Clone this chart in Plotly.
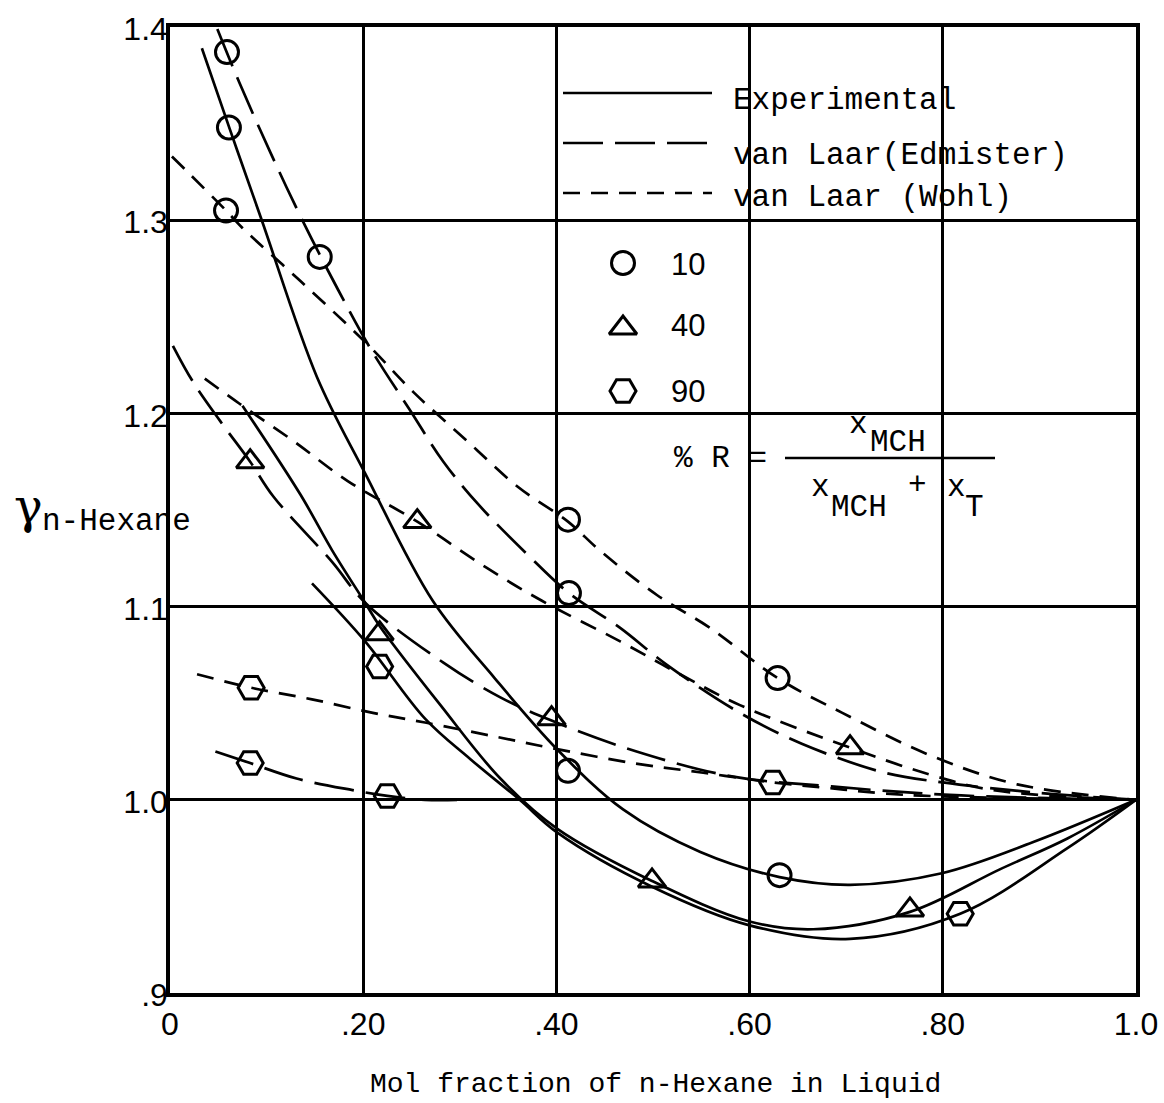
import plotly.graph_objects as go

# ---------------- data ----------------
x_tickvals = [0, 0.2, 0.4, 0.6, 0.8, 1.0]
x_ticktext = ["0", ".20", ".40", ".60", ".80", "1.0"]
y_tickvals = [0.9, 1.0, 1.1, 1.2, 1.3, 1.4]
y_ticktext = [".9", "1.0", "1.1", "1.2", "1.3", "1.4"]

# data points, % R = 10 (circles), 40 (triangles), 90 (hexagons)
r10_x = [0.059, 0.061, 0.058, 0.155, 0.412, 0.413, 0.629, 0.412, 0.631]
r10_y = [1.387, 1.348, 1.305, 1.281, 1.145, 1.107, 1.063, 1.015, 0.961]
r40_x = [0.083, 0.256, 0.217, 0.395, 0.704, 0.499, 0.766]
r40_y = [1.175, 1.144, 1.086, 1.042, 1.027, 0.958, 0.943]
r90_x = [0.084, 0.083, 0.217, 0.225, 0.624, 0.818]
r90_y = [1.058, 1.019, 1.069, 1.002, 1.009, 0.941]

# experimental curves (solid)
exp10_x = [0.033, 0.062, 0.095, 0.152, 0.202, 0.272, 0.336, 0.401, 0.469, 0.549, 0.631, 0.704, 0.799, 0.893, 1.0]
exp10_y = [1.389, 1.347, 1.300, 1.219, 1.169, 1.103, 1.063, 1.026, 0.995, 0.973, 0.960, 0.956, 0.962, 0.978, 1.0]
exp40_x = [0.075, 0.135, 0.168, 0.202, 0.217, 0.280, 0.342, 0.401, 0.499, 0.600, 0.666, 0.766, 0.859, 0.929, 1.0]
exp40_y = [1.204, 1.158, 1.129, 1.102, 1.090, 1.049, 1.011, 0.985, 0.958, 0.937, 0.933, 0.942, 0.964, 0.980, 1.0]
exp90_x = [0.147, 0.202, 0.264, 0.311, 0.362, 0.401, 0.499, 0.600, 0.704, 0.818, 0.929, 1.0]
exp90_y = [1.112, 1.082, 1.042, 1.021, 1.000, 0.983, 0.955, 0.935, 0.928, 0.941, 0.975, 1.0]

# van Laar (Edmister) curves (long dash)
edm10_x = [0.049, 0.072, 0.104, 0.138, 0.174, 0.207, 0.248, 0.283, 0.319, 0.370, 0.413, 0.466, 0.514, 0.590, 0.654, 0.740, 0.800, 0.901, 1.0]
edm10_y = [1.399, 1.371, 1.335, 1.299, 1.264, 1.234, 1.202, 1.175, 1.153, 1.127, 1.107, 1.089, 1.070, 1.045, 1.029, 1.014, 1.009, 1.0035, 1.0]
edm40_x = [0.003, 0.023, 0.052, 0.083, 0.107, 0.168, 0.202, 0.283, 0.342, 0.395, 0.483, 0.583, 0.683, 0.807, 1.0]
edm40_y = [1.235, 1.217, 1.196, 1.175, 1.157, 1.123, 1.102, 1.071, 1.053, 1.041, 1.025, 1.012, 1.007, 1.0025, 1.0]
edm90_x = [0.047, 0.083, 0.131, 0.189, 0.225, 0.264, 0.300]
edm90_y = [1.025, 1.019, 1.011, 1.005, 1.002, 1.000, 1.000]

# van Laar (Wohl) curves (short dash)
wohl10_x = [0.002, 0.058, 0.075, 0.135, 0.204, 0.252, 0.307, 0.360, 0.412, 0.445, 0.504, 0.559, 0.629, 0.696, 0.787, 0.877, 1.0]
wohl10_y = [1.333, 1.305, 1.296, 1.2685, 1.236, 1.211, 1.186, 1.162, 1.144, 1.129, 1.106, 1.089, 1.063, 1.045, 1.023, 1.008, 1.0]
wohl40_x = [0.036, 0.072, 0.127, 0.184, 0.256, 0.328, 0.385, 0.466, 0.528, 0.590, 0.704, 0.787, 0.852, 1.0]
wohl40_y = [1.218, 1.205, 1.186, 1.165, 1.144, 1.120, 1.103, 1.082, 1.065, 1.049, 1.027, 1.013, 1.005, 1.0]
wohl90_x = [0.028, 0.084, 0.147, 0.210, 0.264, 0.339, 0.393, 0.479, 0.552, 0.624, 0.683, 0.763, 1.0]
wohl90_y = [1.065, 1.058, 1.052, 1.045, 1.040, 1.0325, 1.027, 1.019, 1.014, 1.009, 1.006, 1.0025, 1.0]

# ---------------- layout helpers ----------------
W, H = 1164, 1103
ML, MR, MT, MB = 170, 28, 27, 110
PW, PH = W - ML - MR, H - MT - MB
X0, X1, Y0, Y1 = 0.0, 1.0, 0.9, 1.4


def paper_x(xp):
    return (xp - ML) / PW


def paper_y(yp):
    return (H - MB - yp) / PH


def data_xy(xp, yp):
    return X0 + paper_x(xp) * (X1 - X0), Y0 + paper_y(yp) * (Y1 - Y0)


TYPE = "Courier New, Liberation Mono, monospace"
SANS = "Liberation Sans, Arial, sans-serif"
SOLID, EDM, WOHL = "solid", "40px,12px", "17px,11px"
LW = 2.7

fig = go.Figure()


def curve(xs, ys, dash):
    fig.add_trace(go.Scatter(
        x=xs, y=ys, mode="lines", showlegend=False, hoverinfo="skip",
        line=dict(color="black", width=LW, dash=dash, shape="spline", smoothing=1.0)))


for xs, ys in [(exp10_x, exp10_y), (exp40_x, exp40_y), (exp90_x, exp90_y)]:
    curve(xs, ys, SOLID)
for xs, ys in [(edm10_x, edm10_y), (edm40_x, edm40_y), (edm90_x, edm90_y)]:
    curve(xs, ys, EDM)
for xs, ys in [(wohl10_x, wohl10_y), (wohl40_x, wohl40_y), (wohl90_x, wohl90_y)]:
    curve(xs, ys, WOHL)

SYM = {"10": ("circle-open", 23), "40": ("triangle-up-open", 24), "90": ("hexagon2-open", 26)}


def points(xs, ys, key):
    sym, size = SYM[key]
    fig.add_trace(go.Scatter(
        x=xs, y=ys, mode="markers", showlegend=False, hoverinfo="skip",
        marker=dict(symbol=sym, size=size, color="black", line=dict(color="black", width=3))))


points(r10_x, r10_y, "10")
points(r40_x, r40_y, "40")
points(r90_x, r90_y, "90")

# ---------------- hand-made legend ----------------
shapes = []
for yp, dash in [(93, SOLID), (143, EDM), (193, WOHL)]:
    x0, y0 = data_xy(563, yp)
    x1, _ = data_xy(712, yp)
    shapes.append(dict(type="line", xref="x", yref="y", x0=x0, x1=x1, y0=y0, y1=y0,
                       line=dict(color="black", width=LW, dash=dash)))
# fraction bar
fx0, fy = data_xy(785, 458)
fx1, _ = data_xy(995, 458)
shapes.append(dict(type="line", xref="x", yref="y", x0=fx0, x1=fx1, y0=fy, y1=fy,
                   line=dict(color="black", width=2.5)))

for (yp, key) in [(263, "10"), (328, "40"), (391, "90")]:
    mx, my = data_xy(623, yp)
    sym, size = SYM[key]
    fig.add_trace(go.Scatter(
        x=[mx], y=[my], mode="markers", showlegend=False, hoverinfo="skip",
        marker=dict(symbol=sym, size=size, color="black", line=dict(color="black", width=3))))

annotations = []


def text(s, xp, yp, size, family=TYPE, xanchor="left", yanchor="middle"):
    annotations.append(dict(text=s, x=paper_x(xp), y=paper_y(yp), xref="paper", yref="paper",
                            showarrow=False, xanchor=xanchor, yanchor=yanchor,
                            font=dict(family=family, size=size, color="black")))


text("Experimental", 731, 101, 31)
text("van Laar(Edmister)", 731, 156, 31)
text("van Laar (Wohl)", 731, 197, 31)
text("10", 669, 264, 31, SANS)
text("40", 669, 325, 31, SANS)
text("90", 669, 391, 31, SANS)

text("% R =", 672, 458, 31)
text("x", 858, 424, 31, xanchor="center")
text("MCH", 898, 442, 31, xanchor="center")
text("x", 820, 487, 31, xanchor="center")
text("MCH", 859, 507, 31, xanchor="center")
text("+", 917, 486, 31, xanchor="center")
text("x", 956, 487, 31, xanchor="center")
text("T", 974, 507, 31, xanchor="center")

# axis titles
text("Mol fraction of n-Hexane in Liquid", 655, 1084, 28, xanchor="center")
text("γ", 28, 506, 48, "DejaVu Serif, serif", xanchor="center")
text("n-Hexane", 40, 521, 31)

fig.update_layout(
    width=W, height=H,
    margin=dict(l=ML, r=MR, t=MT, b=MB, pad=0, autoexpand=False),
    paper_bgcolor="white", plot_bgcolor="white",
    shapes=shapes, annotations=annotations,
    showlegend=False,
    xaxis=dict(range=[X0, X1], tickvals=x_tickvals, ticktext=x_ticktext, automargin=False,
               showgrid=True, gridcolor="black", gridwidth=3,
               showline=True, linecolor="black", linewidth=3.5, mirror=True,
               zeroline=False, ticks="", ticklabelstandoff=0,
               tickfont=dict(family=SANS, size=32, color="black")),
    yaxis=dict(range=[Y0, Y1], tickvals=y_tickvals, ticktext=y_ticktext, automargin=False,
               showgrid=True, gridcolor="black", gridwidth=3,
               showline=True, linecolor="black", linewidth=3.5, mirror=True,
               zeroline=False, ticks="", ticklabelstandoff=-8, ticklabelshift=2,
               tickfont=dict(family=SANS, size=32, color="black")),
)

fig.write_html("out.html")
